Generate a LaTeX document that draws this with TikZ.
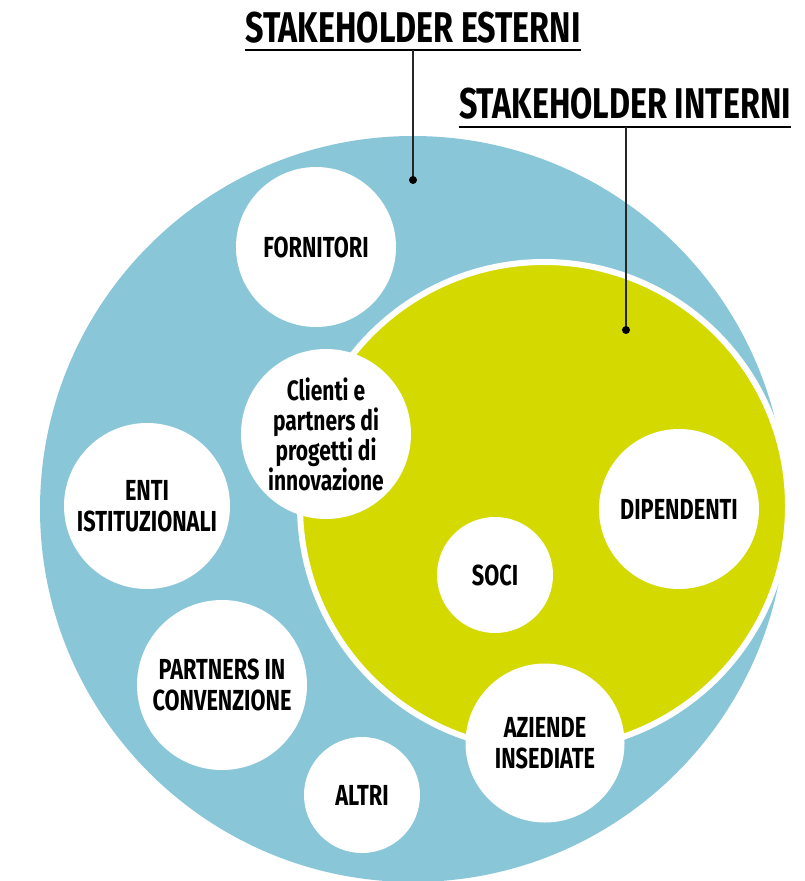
\documentclass[tikz,border=0pt]{standalone}
\usepackage{fontspec}
\setmainfont{Fira Sans}[FakeStretch=0.75]
\definecolor{esterniblue}{RGB}{137,199,216}
\definecolor{interniyellow}{RGB}{212,217,0}
\tikzset{
  bubble/.style={circle, fill=white, inner sep=0pt, align=center, font=\bfseries\fontsize{29}{31.5}\selectfont},
  title/.style={anchor=base, inner sep=0pt, font=\bfseries\fontsize{43}{50}\selectfont},
  uline/.style={line width=2pt},
  leader/.style={line width=1.3pt, black!85},
}

\begin{document}
\begin{tikzpicture}[x=1pt,y=-1pt]
\useasboundingbox (0,0) rectangle (804,881);

\fill[esterniblue] (413,509) circle (373pt);
\filldraw[fill=interniyellow, draw=white, line width=6pt] (544,506) circle (244pt);

\node[bubble, minimum size=160pt] (fornitori) at (316,247) {FORNITORI};
\node[bubble, minimum size=170pt, font=\bfseries\fontsize{28}{30}\selectfont] (clienti) at (326,434) {Clienti e\\partners di\\progetti di\\innovazione};
\node[bubble, minimum size=166pt] (enti) at (147,506) {ENTI\\ISTITUZIONALI};
\node[bubble, minimum size=170pt] (partners) at (222,685) {PARTNERS IN\\CONVENZIONE};
\node[bubble, minimum size=116pt] (altri) at (362,795) {ALTRI};
\node[bubble, minimum size=116pt] (soci) at (495,575) {SOCI};
\node[bubble, minimum size=160pt] (dipendenti) at (679,509) {DIPENDENTI};
\node[bubble, minimum size=159pt] (aziende) at (545,743) {AZIENDE\\INSEDIATE};

\node[title] (esterni) at (413,42) {STAKEHOLDER ESTERNI};
\node[title] (interni) at (625,118) {STAKEHOLDER INTERNI};
\coordinate (ulEsterni) at ([yshift=-8pt]esterni.base);
\coordinate (ulInterni) at ([yshift=-9pt]interni.base);
\coordinate (dotEsterni) at (413,180);
\coordinate (dotInterni) at (626,330);

\draw[uline] (ulEsterni -| esterni.west) -- (ulEsterni -| esterni.east);
\draw[uline] (ulInterni -| interni.west) -- (ulInterni -| interni.east);
\draw[leader] (ulEsterni) -- (dotEsterni);
\draw[leader] (dotInterni |- ulInterni) -- (dotInterni);
\fill (dotEsterni) circle (4pt);
\fill (dotInterni) circle (4pt);

\end{tikzpicture}
\end{document}
